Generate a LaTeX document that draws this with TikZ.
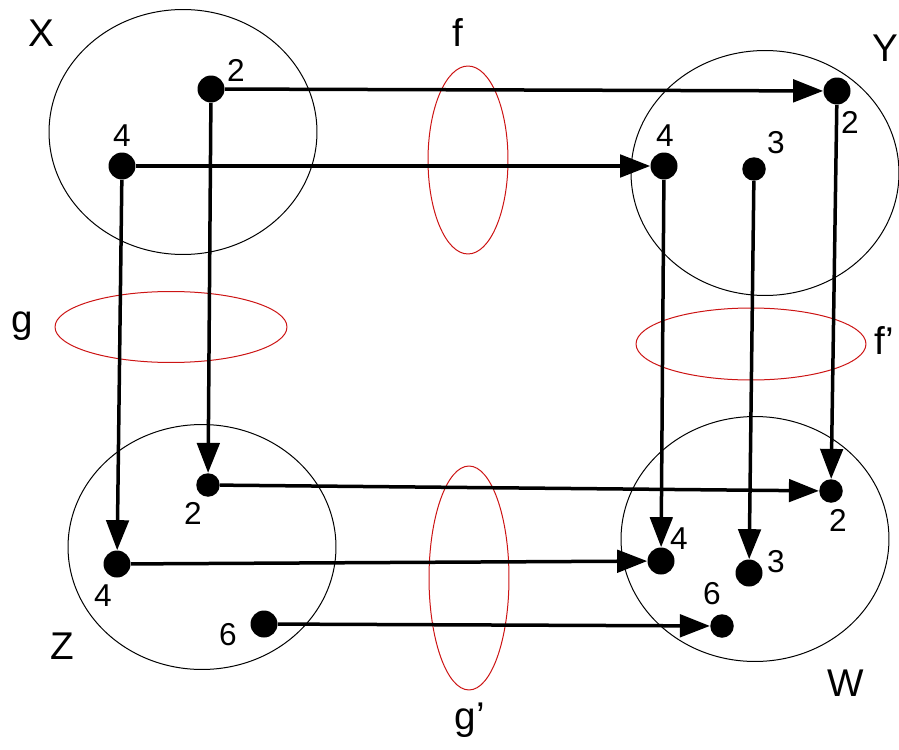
\documentclass[tikz,border=0pt]{standalone}
\usepackage{fontspec}
\setmainfont{Liberation Sans}
\usetikzlibrary{arrows.meta,shapes.geometric}
\definecolor{mapred}{RGB}{204,20,20}

\begin{document}
\begin{tikzpicture}[
  x=0.02cm, y=-0.02cm,
  setbox/.style={ellipse, draw, line width=0.02cm, inner sep=0pt, minimum width=5.36cm, minimum height=4.9cm},
  functbox/.style={ellipse, draw=mapred, line width=0.02cm, inner sep=0pt},
  dot/.style={circle, fill, inner sep=0pt, minimum size=0.54cm},
  smalldot/.style={circle, fill, inner sep=0pt, minimum size=0.47cm},
  num/.style={inner sep=0pt, font=\fontsize{18}{18}\selectfont},
  setname/.style={inner sep=0pt, font=\fontsize{22}{22}\selectfont},
  maparrow/.style={-{Triangle[length=0.6cm,width=0.45cm]}, line width=0.07cm},
]
  \useasboundingbox (0,0) rectangle (899,750);

  % the four sets
  \node[setbox] (X) at (183,132) {};
  \node[setbox] (Y) at (765,173) {};
  \node[setbox] (Z) at (202,547) {};
  \node[setbox] (W) at (755,539) {};
  \node[setname] (Xname) at (41,33) {X};
  \node[setname] (Yname) at (885,48) {Y};
  \node[setname] (Zname) at (62,646) {Z};
  \node[setname] (Wname) at (846,683) {W};

  % the maps
  \node[functbox, minimum width=1.6cm, minimum height=3.76cm] (f) at (468,160) {};
  \node[functbox, minimum width=1.6cm, minimum height=4.48cm] (gp) at (469,578) {};
  \node[functbox, minimum width=4.64cm, minimum height=1.42cm] (g) at (171,327) {};
  \node[functbox, minimum width=4.6cm, minimum height=1.44cm] (fp) at (751,344) {};
  \node[setname] (fname) at (458,33) {f};
  \node[setname] (gpname) at (470,720) {g'};
  \node[setname] (gname) at (22,326) {g};
  \node[setname] (fpname) at (884,341) {f'};

  % elements
  \node[dot] (x2) at (211,89) {};
  \node[dot] (x4) at (122,166) {};
  \node[dot] (y2) at (837,91) {};
  \node[dot] (y4) at (664,166) {};
  \node[smalldot] (y3) at (754,169) {};
  \node[smalldot] (z2) at (208,485) {};
  \node[dot] (z4) at (117,564) {};
  \node[dot] (z6) at (264,624) {};
  \node[smalldot] (w2) at (831,491) {};
  \node[dot] (w4) at (661,561) {};
  \node[dot] (w3) at (749,573) {};
  \node[smalldot] (w6) at (722,626) {};

  \node[num] (x2lab) at (236,70) {2};
  \node[num] (x4lab) at (122,136) {4};
  \node[num] (y2lab) at (850,122) {2};
  \node[num] (y4lab) at (665,136) {4};
  \node[num] (y3lab) at (776,143) {3};
  \node[num] (z2lab) at (193,513) {2};
  \node[num] (z4lab) at (103,596) {4};
  \node[num] (z6lab) at (228,635) {6};
  \node[num] (w2lab) at (838,520) {2};
  \node[num] (w4lab) at (679,539) {4};
  \node[num] (w3lab) at (776,562) {3};
  \node[num] (w6lab) at (712,594) {6};

  \draw[maparrow] (x2) -- (y2);
  \draw[maparrow] (x4) -- (y4);
  \draw[maparrow] (x2) -- (z2);
  \draw[maparrow] (x4) -- (z4);
  \draw[maparrow] (y2) -- (w2);
  \draw[maparrow] (y4) -- (w4);
  \draw[maparrow] (y3) -- (w3);
  \draw[maparrow] (z2) -- (w2);
  \draw[maparrow] (z4) -- (w4);
  \draw[maparrow] (z6) -- (w6);
\end{tikzpicture}
\end{document}
